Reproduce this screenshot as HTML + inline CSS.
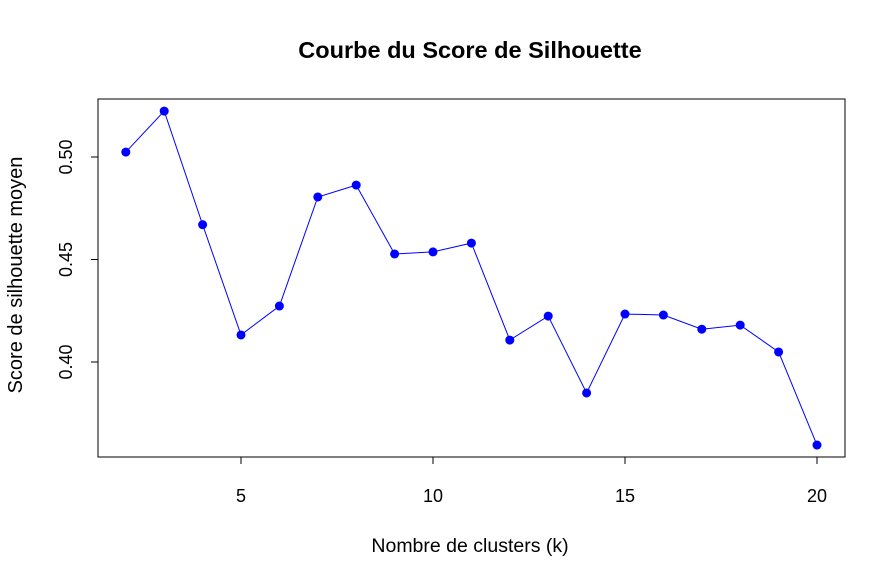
<!DOCTYPE html>
<html><head><meta charset="utf-8"><style>
body{margin:0;background:#fff;}
svg{display:block;font-family:"Liberation Sans",Arial,sans-serif;}
</style></head><body>
<svg id="chart" width="895" height="581">
<rect width="895" height="581" fill="#fff"/>
<text x="470" y="58" text-anchor="middle" font-size="23.5" font-weight="bold">Courbe du Score de Silhouette</text>
<rect x="98" y="99" width="747" height="358" fill="none" stroke="#000" stroke-width="1"/>
<text x="470" y="552" text-anchor="middle" font-size="19.5">Nombre de clusters (k)</text>
<text transform="translate(22,275) rotate(-90)" text-anchor="middle" font-size="20">Score de silhouette moyen</text>
<g id="xaxis"></g><g id="yaxis"></g><g id="series"></g>
</svg>
<script>
const ks=[2,3,4,5,6,7,8,9,10,11,12,13,14,15,16,17,18,19,20];
const scores=[0.5024,0.5224,0.467,0.4132,0.4273,0.4805,0.4863,0.4527,0.4537,0.458,0.4107,0.4224,0.3849,0.4234,0.4229,0.416,0.418,0.4049,0.3595];
const xTicks=[5,10,15,20];
const yTicks=[0.40,0.45,0.50];
const yTickLabels=["0.40","0.45","0.50"];
const NS="http://www.w3.org/2000/svg";
const xs=v=>241+(v-5)*38.4;
const ys=v=>157-(v-0.5)*2050;
function mk(t,a,p){const e=document.createElementNS(NS,t);for(const k in a)e.setAttribute(k,a[k]);p.appendChild(e);return e;}
const xa=document.getElementById('xaxis');
let l=mk('line',{x1:xs(xTicks[0]),x2:xs(xTicks[xTicks.length-1]),y1:457,y2:457,stroke:'#000'},xa);


xTicks.forEach(t=>{
 const tk=mk('line',{x1:xs(t),x2:xs(t),y1:457,y2:464,stroke:'#000'},xa);
 
 
 const tx=mk('text',{x:xs(t),y:502,'text-anchor':'middle','font-size':18},xa);tx.textContent=t;
 
 
});
const ya=document.getElementById('yaxis');
l=mk('line',{x1:98,x2:98,y1:ys(yTicks[0]),y2:ys(yTicks[yTicks.length-1]),stroke:'#000'},ya);


yTicks.forEach((t,i)=>{
 const tk=mk('line',{x1:91,x2:98,y1:ys(t),y2:ys(t),stroke:'#000'},ya);
 
 
 const tx=mk('text',{transform:`translate(72,${ys(t)}) rotate(-90)`,'text-anchor':'middle','font-size':18},ya);tx.textContent=yTickLabels[i];
 
 
});
const sg=document.getElementById('series');
const pl=mk('polyline',{points:ks.map((k,i)=>xs(k)+','+ys(scores[i])).join(' '),fill:'none',stroke:'#0000ff','stroke-width':1},sg);


ks.forEach((k,i)=>{
 const c=mk('circle',{cx:xs(k),cy:ys(scores[i]),r:4.5,fill:'#0000ff'},sg);
 
 
});
</script>
</body></html>
